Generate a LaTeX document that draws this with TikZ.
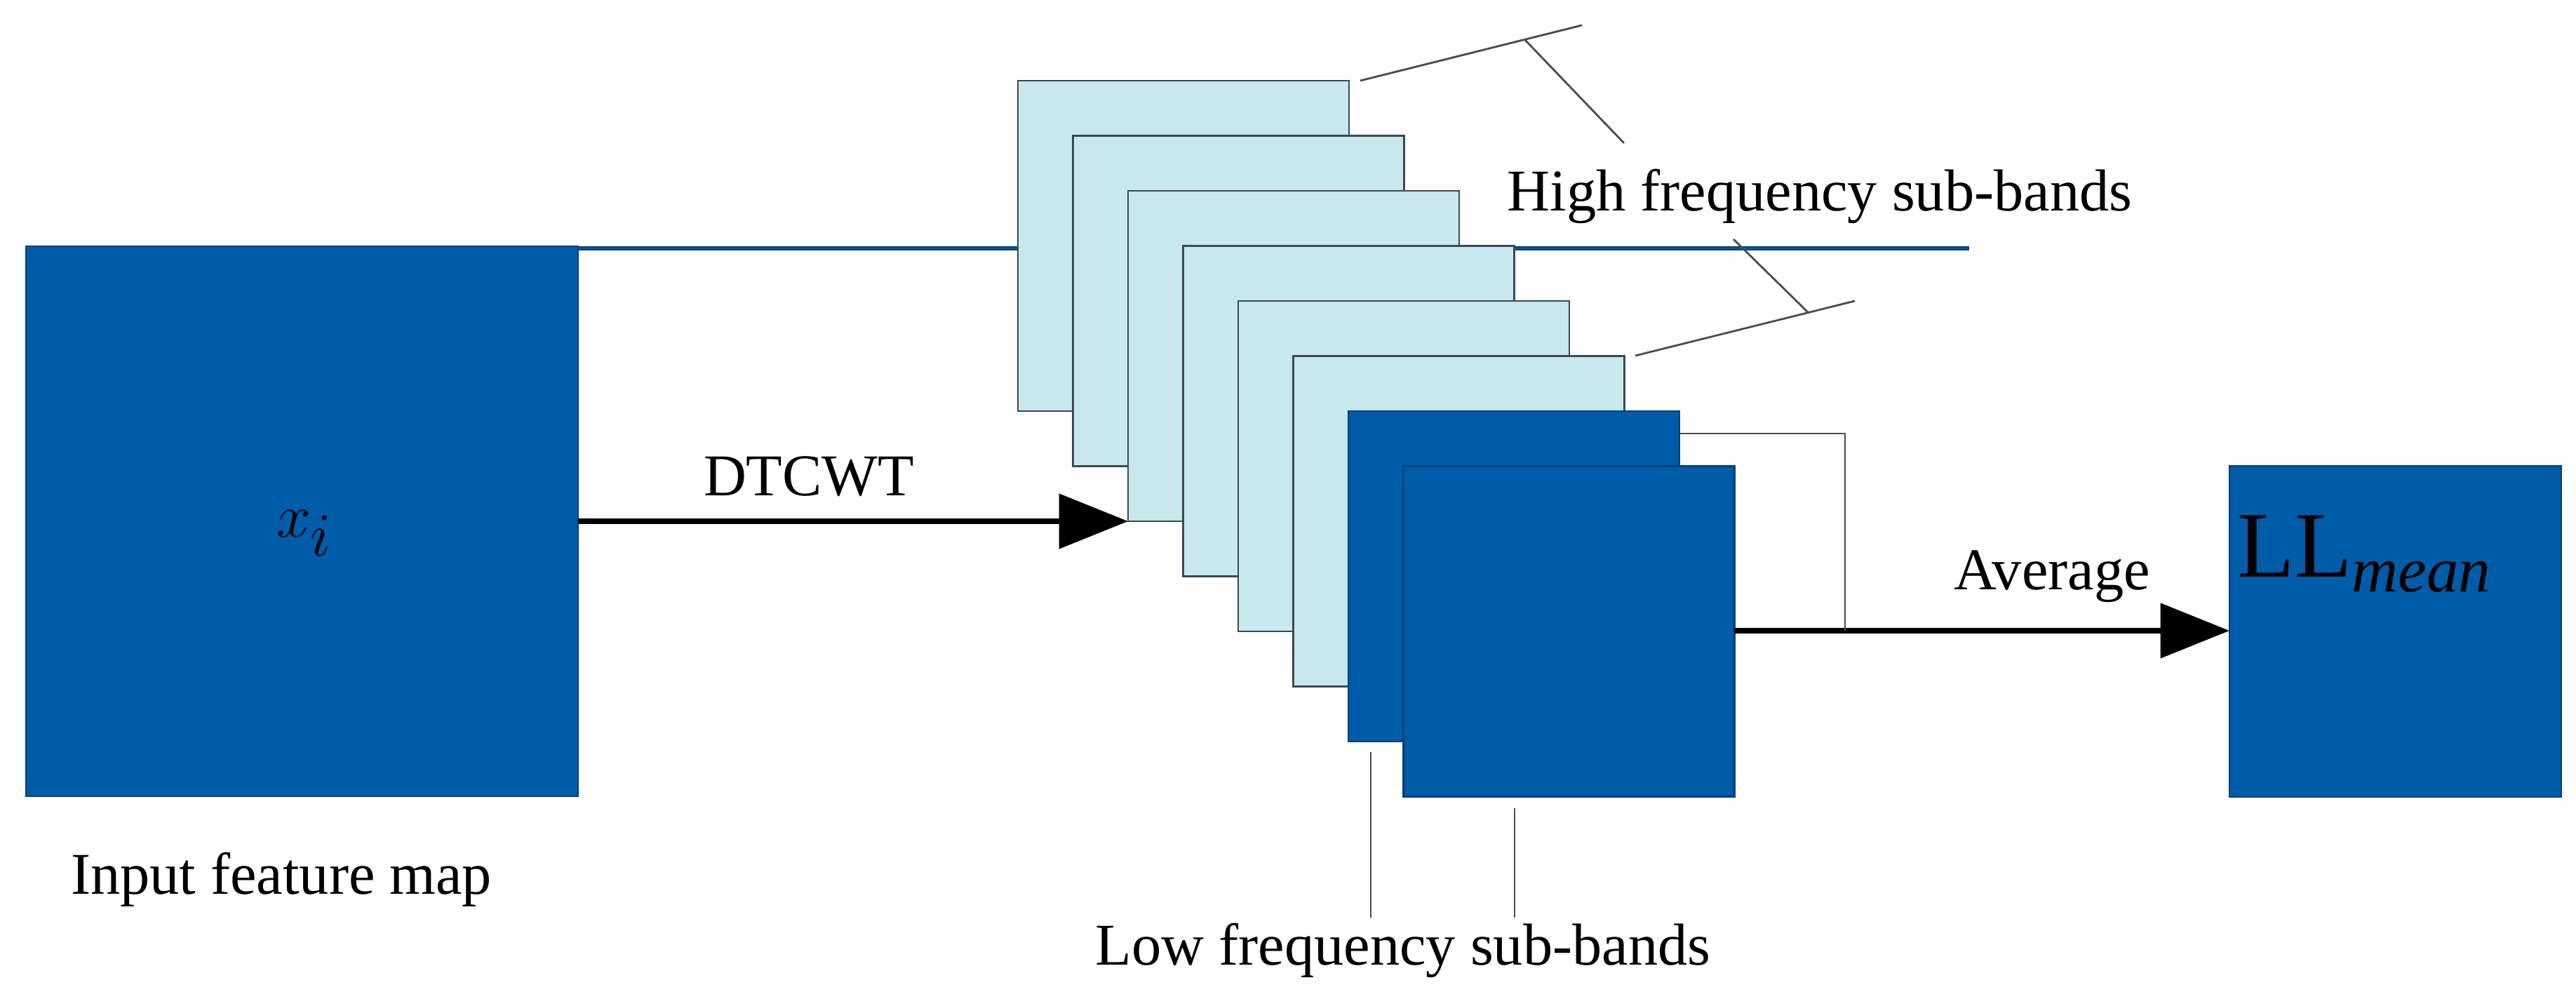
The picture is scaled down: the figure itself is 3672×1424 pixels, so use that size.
\documentclass[tikz,border=0pt]{standalone}
\usepackage{fontspec}
\setmainfont{Liberation Serif}
\usetikzlibrary{arrows.meta}
\definecolor{dblue}{HTML}{005CA8}
\definecolor{lblue}{HTML}{C9E8EE}
\definecolor{edge}{HTML}{3A4A55}
\begin{document}
\begin{tikzpicture}[x=0.01cm,y=-0.01cm,
  dark/.style={fill=dblue,draw=dblue!70!black,line width=0.6pt},
  light/.style={fill=lblue,draw=edge,line width=0.8pt},
  lead/.style={draw=black!70,line width=0.8pt},
  arr/.style={line width=2pt,-{Triangle[length=28pt,width=22pt]}},
  lbl/.style={font=\fontsize{24}{28}\selectfont,inner sep=0pt}]
\useasboundingbox (0,0) rectangle (3672,1424);
\node[dark,minimum width=787\pgflinewidth/0.6,inner sep=0,anchor=north west] (in) at (37,351) {};
\path[dark] (37,351) rectangle (824,1135);
\node[inner sep=0] (xi) at (434,760) {\fontsize{44}{50}\selectfont$x_i$};
\node[lbl] (inl) at (401,1254) {Input feature map};
% stack
\foreach \k in {0,...,5}{
  \path[light] ({1451+78.5*\k},{115+78.5*\k}) rectangle ++(472,471);
}
\foreach \k in {6,7}{
  \path[dark] ({1451+78.5*\k},{115+78.5*\k}) rectangle ++(472,471);
}
\coordinate (s2) at (1608,743);
\coordinate (inR) at (824,743);
\draw[arr] (inR) -- (s2);
\node[lbl] (dt) at (1153,679) {DTCWT};
% LL
\path[dark] (3178,664) rectangle (3651,1136);
\node[inner sep=0] (ll) at (3370,790) {\fontsize{38}{44}\selectfont LL\textit{\fontsize{26}{30}\selectfont\raisebox{-6pt}{mean}}};
\coordinate (s7R) at (2472,899);
\coordinate (llL) at (3178,899);
\draw[arr] (s7R) -- (llL);
\node[lbl] (avg) at (2925,822) {Average};
% connector from sq6
\coordinate (c1) at (2394,618);
\coordinate (c2) at (2630,618);
\coordinate (c3) at (2630,899);
\draw[lead] (c1) -- (c2) -- (c3);
% high leaders
\coordinate (h1a) at (1939,115); \coordinate (h1b) at (2255,36);
\coordinate (h1m) at (2173,56); \coordinate (h1t) at (2315,204);
\draw[lead] (h1a) -- (h1b); \draw[lead] (h1m) -- (h1t);
\coordinate (h2a) at (2331,507); \coordinate (h2b) at (2644,429);
\coordinate (h2m) at (2577,445); \coordinate (h2t) at (2471,341);
\draw[lead] (h2a) -- (h2b); \draw[lead] (h2m) -- (h2t);
\node[lbl,anchor=west] (hf) at (2148,280) {High frequency sub-bands};
% low leaders
\coordinate (l1a) at (1954,1072); \coordinate (l1b) at (1954,1308);
\coordinate (l2a) at (2159,1152); \coordinate (l2b) at (2159,1308);
\draw[lead] (l1a) -- (l1b); \draw[lead] (l2a) -- (l2b);
\node[lbl] (lf) at (2000,1355) {Low frequency sub-bands};
\end{tikzpicture}
\end{document}
